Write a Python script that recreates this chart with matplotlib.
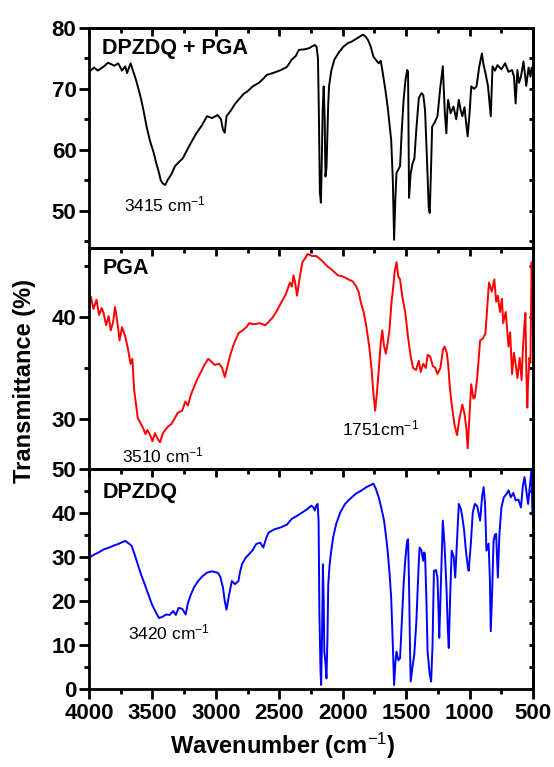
import matplotlib
matplotlib.use("Agg")
import matplotlib.pyplot as plt
from matplotlib.ticker import MultipleLocator

plt.rcParams['font.family'] = ['Liberation Sans', 'DejaVu Sans']
plt.rcParams['mathtext.fontset'] = 'custom'
plt.rcParams['mathtext.rm'] = 'Liberation Sans'
plt.rcParams['mathtext.it'] = 'Liberation Sans:italic'
plt.rcParams['mathtext.bf'] = 'Liberation Sans:bold'

# ---- DPZDQ + PGA (black): (wavenumber, transmittance) ----
mix_points = [
    (4000, 72.8), (3960, 73.5), (3930, 73.0), (3882, 73.7), (3850, 74.3), (3800, 73.8),
    (3770, 74.2), (3740, 73.0), (3714, 73.7), (3700, 72.6), (3672, 74.2), (3650, 72.8),
    (3630, 71.5), (3610, 70.0), (3588, 68.2), (3566, 66.0), (3546, 63.8), (3520, 61.5),
    (3490, 59.5), (3470, 57.8), (3448, 56.2), (3435, 55.0), (3420, 54.5), (3400, 54.2),
    (3378, 55.1), (3350, 56.0), (3322, 57.3), (3290, 58.0), (3260, 58.6), (3238, 59.5),
    (3200, 61.0), (3154, 62.7), (3110, 64.0), (3070, 65.5), (3030, 65.2), (2986, 65.7),
    (2960, 65.0), (2944, 63.3), (2930, 62.8), (2916, 65.5), (2880, 66.5), (2850, 67.5),
    (2822, 68.2), (2780, 69.2), (2750, 69.6), (2710, 70.4), (2660, 71.0), (2620, 71.8),
    (2598, 72.3), (2550, 72.6), (2486, 73.1), (2440, 73.6), (2402, 74.8), (2370, 75.4),
    (2346, 76.4), (2300, 76.5), (2262, 76.7), (2240, 77.0), (2220, 77.2), (2206, 76.9),
    (2195, 75.0), (2188, 66.0), (2180, 53.0), (2172, 51.3), (2165, 58.0), (2158, 66.6),
    (2150, 70.4), (2142, 65.0), (2136, 55.6), (2128, 57.0), (2122, 61.6), (2115, 67.0),
    (2108, 70.4), (2090, 73.0), (2066, 74.8), (2030, 76.0), (1996, 76.9), (1960, 77.5),
    (1926, 77.8), (1880, 78.4), (1842, 78.9), (1820, 78.6), (1800, 78.0), (1780, 77.0),
    (1758, 75.3), (1740, 74.8), (1716, 74.2), (1700, 74.6), (1688, 73.1), (1665, 70.0),
    (1646, 67.1), (1630, 64.0), (1618, 61.6), (1605, 55.0), (1595, 45.2), (1585, 52.0),
    (1576, 56.2), (1560, 56.8), (1548, 57.3), (1535, 63.0), (1520, 68.2), (1505, 71.5),
    (1492, 73.1), (1485, 72.8), (1477, 52.1), (1465, 56.0), (1449, 57.8), (1435, 58.5),
    (1421, 63.0), (1400, 68.5), (1379, 69.3), (1365, 69.0), (1351, 66.5), (1335, 58.0),
    (1322, 50.5), (1314, 49.6), (1305, 56.0), (1295, 63.8), (1275, 64.5), (1253, 65.5),
    (1232, 70.0), (1211, 73.7), (1195, 66.0), (1183, 62.7), (1175, 66.5), (1169, 68.2),
    (1150, 66.0), (1127, 67.1), (1105, 65.0), (1085, 68.2), (1070, 66.5), (1057, 65.5),
    (1040, 67.0), (1025, 64.0), (1015, 62.2), (1000, 66.0), (987, 70.4), (965, 70.0),
    (945, 70.4), (925, 73.5), (903, 75.8), (890, 74.0), (875, 72.6), (855, 70.5),
    (840, 67.0), (833, 65.5), (819, 73.7), (800, 73.0), (780, 73.9), (749, 73.2),
    (720, 74.2), (693, 72.8), (665, 73.1), (650, 72.0), (637, 67.6), (623, 73.1),
    (610, 71.0), (595, 72.0), (575, 74.5), (553, 70.5), (535, 73.5), (520, 72.0),
    (511, 73.5), (500, 72.5)]

# ---- PGA (red) ----
pga_points = [
    (4000, 42.1), (3985, 42.0), (3965, 40.8), (3941, 41.7), (3920, 40.2), (3900, 40.9),
    (3885, 40.4), (3865, 39.2), (3845, 40.1), (3829, 38.7), (3810, 39.5), (3795, 41.0),
    (3787, 40.4), (3770, 38.9), (3759, 37.7), (3740, 39.0), (3714, 38.1), (3695, 37.0),
    (3672, 35.4), (3658, 35.9), (3644, 32.8), (3630, 31.5), (3616, 30.1), (3595, 29.6),
    (3574, 29.1), (3555, 28.5), (3540, 28.9), (3518, 28.4), (3500, 27.8), (3480, 28.6),
    (3462, 28.1), (3440, 27.7), (3420, 28.5), (3406, 28.8), (3380, 29.2), (3350, 29.5),
    (3322, 30.1), (3300, 30.6), (3266, 30.8), (3240, 31.7), (3220, 31.3), (3196, 32.4),
    (3170, 33.2), (3150, 33.8), (3126, 34.4), (3090, 35.3), (3060, 35.9), (3042, 35.7),
    (3010, 35.3), (2972, 35.4), (2950, 35.0), (2930, 34.1), (2910, 35.1), (2888, 36.2),
    (2860, 37.3), (2822, 38.4), (2790, 38.7), (2760, 39.0), (2738, 39.4), (2700, 39.3),
    (2654, 39.4), (2610, 39.2), (2556, 39.9), (2520, 40.6), (2486, 41.4), (2450, 42.2),
    (2416, 43.4), (2400, 43.0), (2388, 44.1), (2375, 43.4), (2360, 42.1), (2340, 43.8),
    (2318, 45.4), (2295, 45.8), (2276, 46.2), (2240, 46.0), (2206, 46.0), (2160, 45.5),
    (2122, 45.0), (2080, 44.6), (2038, 44.1), (2000, 44.0), (1954, 43.7), (1920, 43.5),
    (1898, 43.1), (1875, 42.5), (1856, 41.4), (1835, 40.5), (1814, 39.1), (1790, 37.0),
    (1772, 34.8), (1758, 32.5), (1744, 30.8), (1730, 32.6), (1716, 34.8), (1700, 37.5),
    (1688, 38.7), (1675, 37.2), (1660, 36.4), (1645, 37.5), (1632, 38.7), (1615, 41.5),
    (1604, 42.7), (1590, 44.5), (1576, 45.4), (1562, 44.0), (1548, 43.7), (1530, 42.0),
    (1506, 40.4), (1485, 38.0), (1464, 36.1), (1445, 35.0), (1422, 34.8), (1400, 35.7),
    (1385, 34.6), (1366, 35.4), (1345, 35.0), (1330, 36.3), (1310, 36.1), (1290, 35.2),
    (1270, 35.0), (1253, 34.4), (1230, 35.0), (1210, 36.8), (1197, 37.1), (1180, 36.5),
    (1169, 35.4), (1155, 33.0), (1141, 31.4), (1120, 29.5), (1099, 28.4), (1080, 30.0),
    (1057, 31.4), (1040, 30.5), (1025, 29.0), (1015, 27.1), (1000, 30.5), (987, 33.4),
    (970, 32.0), (959, 32.1), (940, 34.0), (917, 37.7), (895, 37.9), (875, 38.4),
    (860, 41.0), (847, 43.4), (825, 42.5), (805, 43.7), (790, 41.5), (777, 42.1),
    (760, 40.5), (745, 41.8), (735, 39.4), (715, 40.5), (693, 37.1), (680, 38.5),
    (665, 34.4), (650, 36.5), (637, 35.4), (623, 34.0), (605, 36.0), (590, 33.8),
    (581, 36.5), (570, 38.8), (560, 40.4), (553, 35.0), (545, 31.1), (539, 33.5),
    (528, 36.0), (520, 35.5), (511, 45.4), (505, 43.0)]

# ---- DPZDQ (blue) ----
dp_points = [
    (4000, 29.8), (3960, 30.5), (3930, 30.9), (3882, 31.7), (3850, 32.0), (3800, 32.6),
    (3770, 32.9), (3740, 33.3), (3714, 33.6), (3690, 33.1), (3664, 32.5), (3640, 30.5),
    (3616, 28.3), (3590, 26.0), (3560, 23.7), (3530, 21.3), (3504, 19.2), (3475, 17.5),
    (3448, 16.1), (3420, 16.4), (3392, 16.9), (3365, 16.8), (3336, 17.7), (3315, 16.8),
    (3294, 18.4), (3265, 18.2), (3238, 16.9), (3220, 19.5), (3196, 21.5), (3170, 23.2),
    (3140, 24.5), (3105, 25.6), (3070, 26.4), (3030, 26.7), (2986, 26.4), (2965, 25.5),
    (2944, 23.0), (2930, 20.0), (2916, 18.0), (2895, 21.5), (2874, 24.5), (2850, 23.8),
    (2822, 24.5), (2810, 26.5), (2794, 28.3), (2765, 29.8), (2738, 30.6), (2710, 31.5),
    (2682, 32.9), (2650, 33.2), (2626, 32.1), (2600, 34.5), (2584, 35.5), (2540, 36.2),
    (2486, 36.7), (2440, 37.3), (2402, 38.6), (2360, 39.3), (2318, 40.1), (2280, 40.8),
    (2248, 41.6), (2230, 41.2), (2220, 40.5), (2210, 41.5), (2198, 42.0), (2190, 38.0),
    (2184, 17.7), (2175, 4.0), (2170, 0.9), (2163, 12.0), (2156, 28.3), (2150, 20.0),
    (2145, 8.5), (2136, 6.0), (2128, 2.4), (2120, 12.0), (2114, 23.7), (2104, 28.0),
    (2094, 30.6), (2075, 34.5), (2052, 37.4), (2020, 40.0), (1982, 42.0), (1940, 43.2),
    (1898, 44.3), (1855, 45.0), (1814, 45.8), (1785, 46.2), (1758, 46.6), (1740, 45.5),
    (1716, 43.5), (1695, 41.0), (1674, 38.2), (1660, 35.0), (1646, 31.4), (1630, 26.0),
    (1618, 20.7), (1605, 10.0), (1595, 0.9), (1585, 6.0), (1576, 8.5), (1562, 6.5),
    (1548, 7.0), (1535, 15.0), (1520, 23.7), (1505, 30.0), (1492, 33.6), (1485, 34.0),
    (1477, 23.7), (1470, 10.0), (1464, 1.7), (1450, 5.0), (1436, 7.8), (1420, 15.0),
    (1408, 23.7), (1400, 29.0), (1394, 32.1), (1380, 31.5), (1366, 29.1), (1358, 31.0),
    (1351, 30.6), (1340, 20.0), (1331, 8.5), (1315, 3.5), (1303, 1.7), (1292, 10.0),
    (1281, 26.8), (1265, 27.0), (1253, 25.3), (1245, 18.0), (1239, 11.6), (1225, 25.0),
    (1211, 38.2), (1198, 33.0), (1183, 23.7), (1172, 14.0), (1164, 9.3), (1152, 22.0),
    (1141, 31.4), (1125, 30.0), (1113, 25.3), (1100, 33.0), (1085, 42.0), (1070, 41.0),
    (1057, 39.0), (1043, 36.0), (1029, 31.4), (1015, 28.0), (1007, 26.8), (990, 33.0),
    (975, 40.0), (959, 42.0), (940, 41.5), (917, 38.2), (900, 44.0), (889, 45.8),
    (878, 42.0), (867, 31.4), (850, 33.0), (840, 25.0), (833, 13.1), (822, 22.0),
    (811, 33.6), (800, 35.0), (791, 35.2), (784, 30.0), (777, 25.3), (765, 35.0),
    (749, 41.2), (730, 43.5), (710, 44.2), (693, 45.1), (675, 43.5), (655, 44.5),
    (637, 42.8), (615, 43.0), (595, 41.2), (580, 46.0), (567, 48.1), (553, 45.0),
    (539, 42.0), (525, 46.0), (511, 50.0), (505, 40.0), (500, 39.0)]

x_ticks = [4000, 3500, 3000, 2500, 2000, 1500, 1000, 500]
panel_labels = ['DPZDQ + PGA', 'PGA', 'DPZDQ']
annotations = [(0, 3400, 51.0, '3415 cm$^{-1}$'), (1, 3420, 26.4, '3510 cm$^{-1}$'),
               (1, 1700, 29.1, '1751cm$^{-1}$'), (2, 3370, 12.8, '3420 cm$^{-1}$')]

fig = plt.figure(figsize=(5.54, 7.67), dpi=100)
left, width = 89 / 554, 444 / 554
bot, top = 1 - 689 / 767, 1 - 28 / 767
h = (top - bot) / 3
bottoms = [bot + 2 * h, bot + h, bot]
ylims = [(43.8, 80), (25.1, 46.76), (0, 50)]
yticks = [[50, 60, 70, 80], [30, 40], [0, 10, 20, 30, 40, 50]]
series = [(mix_points, 'black'), (pga_points, 'red'), (dp_points, 'blue')]
label_y = [0.955, 0.955, 0.94]

axes = []
for i in range(3):
    ax = fig.add_axes([left, bottoms[i], width, h])
    pts, col = series[i]
    wn = [p[0] for p in pts]
    tr = [p[1] for p in pts]
    ax.plot(wn, tr, color=col, lw=1.4)
    ax.set_xlim(4000, 500)
    ax.set_ylim(*ylims[i])
    ax.set_yticks(yticks[i])
    ax.yaxis.set_minor_locator(MultipleLocator(5))
    ax.set_xticks(x_ticks)
    ax.xaxis.set_minor_locator(MultipleLocator(250))
    for sp in ax.spines.values():
        sp.set_linewidth(2.0)
    ax.tick_params(axis='y', which='both', left=True, right=False, direction='out',
                   width=2, labelsize=16, pad=2)
    ax.tick_params(axis='y', which='major', length=7)
    ax.tick_params(axis='y', which='minor', length=3.5)
    ax.tick_params(axis='x', which='both', top=False, bottom=(i == 2), direction='out',
                   width=2, labelsize=16, labelbottom=(i == 2), pad=3)
    ax.tick_params(axis='x', which='major', length=7)
    ax.tick_params(axis='x', which='minor', length=3.5)
    for lab in ax.get_yticklabels() + ax.get_xticklabels():
        lab.set_fontweight('bold')
    axr = ax.secondary_yaxis('right')
    axr.set_yticks(yticks[i])
    axr.yaxis.set_minor_locator(MultipleLocator(5))
    axr.tick_params(axis='y', which='both', direction='in', width=2, length=3, labelright=False)
    axr.spines['right'].set_linewidth(2.0)
    axt = ax.secondary_xaxis('top')
    axt.set_xticks(x_ticks)
    axt.xaxis.set_minor_locator(MultipleLocator(250))
    axt.tick_params(axis='x', which='major', direction='in', width=2, length=6, labeltop=False)
    axt.tick_params(axis='x', which='minor', direction='in', width=2, length=3.5)
    axt.spines['top'].set_linewidth(2.0)
    ax.text(0.03, label_y[i], panel_labels[i], transform=ax.transAxes, fontsize=15.5,
            fontweight='bold', ha='left', va='top')
    axes.append(ax)

for idx, x, y, s in annotations:
    axes[idx].text(x, y, s, fontsize=12.5, ha='center', va='center')

fig.text(0.045, 0.503, 'Transmittance (%)', rotation=90, fontsize=17, fontweight='bold',
         ha='center', va='center')
fig.text(0.51, 0.028, 'Wavenumber (cm$^{-1}$)', fontsize=17, fontweight='bold',
         ha='center', va='center')

fig.savefig('out.png', dpi=100)
